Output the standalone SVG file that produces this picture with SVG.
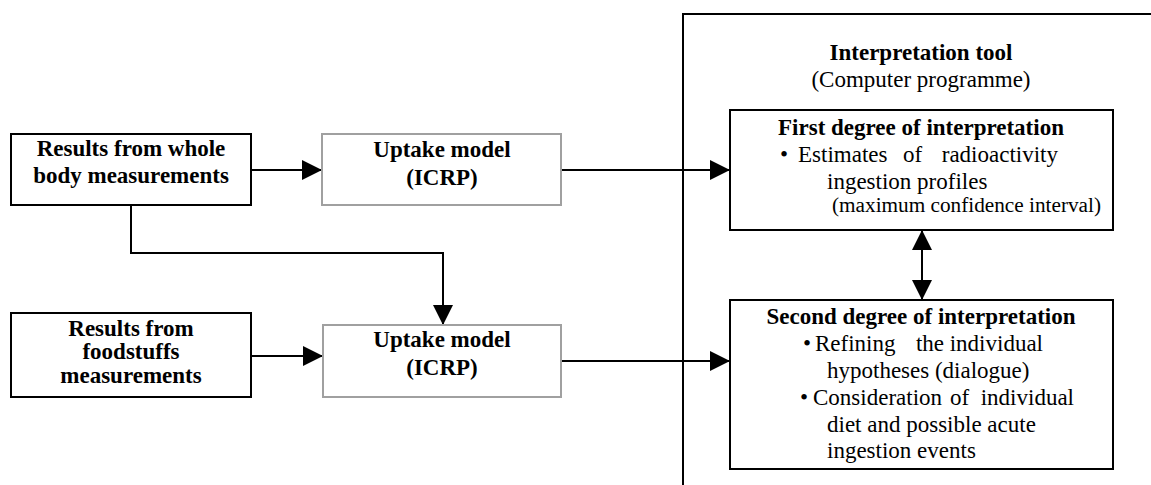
<svg xmlns="http://www.w3.org/2000/svg" width="1151" height="485" viewBox="0 0 1151 485">
<style>
  text { font-family: "Liberation Serif", "Times New Roman", serif; fill: #000; }
  .b { font-weight: bold; font-size: 23px; }
  .r { font-size: 23px; }
  .s { font-size: 20px; }
  .c { text-anchor: middle; }
  .box { fill: #fff; stroke: #000; stroke-width: 2; }
  .gbox { fill: #fff; stroke: #a0a0a0; stroke-width: 2; }
  .con { fill: none; stroke: #000; stroke-width: 2; }
</style>
<defs>
  <marker id="ah" markerUnits="userSpaceOnUse" markerWidth="20" markerHeight="20" refX="20" refY="10" orient="auto-start-reverse" viewBox="0 0 20 20">
    <path d="M0,0 L20,10 L0,20 Z" fill="#000"/>
  </marker>
</defs>

<g id="interpretation-tool">
  <rect x="683" y="14" width="520" height="520" fill="none" stroke="#000" stroke-width="2"/>
  <text class="b c" x="921" y="60">Interpretation tool</text>
  <text class="r c" x="921" y="87">(Computer programme)</text>
</g>

<g id="connectors">
  <path class="con" d="M251,170 H322" marker-end="url(#ah)"/>
  <path class="con" d="M561,170 H730" marker-end="url(#ah)"/>
  <path class="con" d="M131,205 V253 H443 V325" marker-end="url(#ah)"/>
  <path class="con" d="M251,356 H323" marker-end="url(#ah)"/>
  <path class="con" d="M561,361 H730" marker-end="url(#ah)"/>
  <path class="con" d="M922,230 V300" marker-start="url(#ah)" marker-end="url(#ah)"/>
</g>

<g id="whole-body">
  <rect class="box" x="11" y="134" width="240" height="71"/>
  <text class="b c" x="131" y="156">Results from whole</text>
  <text class="b c" x="131" y="183">body measurements</text>
</g>

<g id="uptake-1">
  <rect class="gbox" x="322" y="134" width="239" height="71"/>
  <text class="b c" x="442" y="157">Uptake model</text>
  <text class="b c" x="442" y="185">(ICRP)</text>
</g>

<g id="foodstuffs">
  <rect class="box" x="11" y="313" width="240" height="84"/>
  <text class="b c" x="131" y="336">Results from</text>
  <text class="b c" x="131" y="359">foodstuffs</text>
  <text class="b c" x="131" y="383">measurements</text>
</g>

<g id="uptake-2">
  <rect class="gbox" x="323" y="325" width="238" height="72"/>
  <text class="b c" x="442" y="347">Uptake model</text>
  <text class="b c" x="442" y="375">(ICRP)</text>
</g>

<g id="first-degree">
  <rect class="box" x="730" y="110" width="383" height="120"/>
  <text class="b c" x="921" y="135">First degree of interpretation</text>
  <text class="r" y="162"><tspan x="780">•</tspan><tspan x="798">Estimates</tspan><tspan x="903">of</tspan></text>
  <text class="r" x="1058" y="162" text-anchor="end">radioactivity</text>
  <text class="r" x="827" y="189">ingestion profiles</text>
  <text class="s" x="832" y="212" textLength="269" lengthAdjust="spacingAndGlyphs">(maximum confidence interval)</text>
</g>

<g id="second-degree">
  <rect class="box" x="730" y="300" width="383" height="169"/>
  <text class="b c" x="921" y="324">Second degree of interpretation</text>
  <text class="r" y="351"><tspan x="803">•</tspan><tspan x="815">Refining</tspan></text>
  <text class="r" x="1043" y="351" text-anchor="end">the individual</text>
  <text class="r" x="827" y="378">hypotheses (dialogue)</text>
  <text class="r" y="405"><tspan x="800">•</tspan><tspan x="813">Consideration</tspan><tspan x="950">of</tspan></text>
  <text class="r" x="1074" y="405" text-anchor="end">individual</text>
  <text class="r" x="827" y="432">diet and possible acute</text>
  <text class="r" x="827" y="458">ingestion events</text>
</g>
</svg>
